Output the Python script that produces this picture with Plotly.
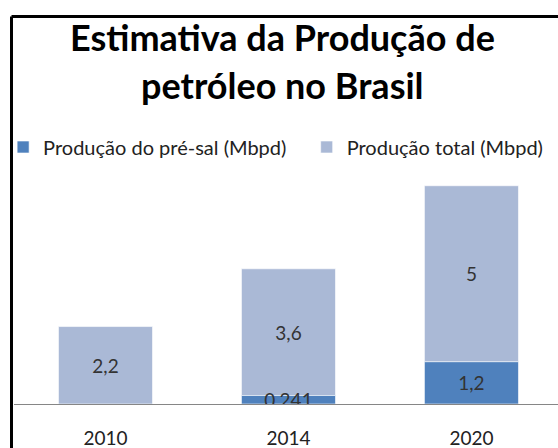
import plotly.graph_objects as go

# dados (Mbpd)
anos = ["2010", "2014", "2020"]
pre_sal = [None, 0.241, 1.2]
total = [2.2, 3.6, 5]

nome_pre_sal = "Produção do pré-sal (Mbpd)"
nome_total = "Produção total (Mbpd)"

cor_pre_sal = "#4F81BD"
cor_total = "#AAB9D6"


def rotulo(v):
    if v is None:
        return ""
    return str(v).replace(".", ",")


base_total = [v if v is not None else 0 for v in pre_sal]

fig = go.Figure()

# total empilhado em cima do pré-sal (desenhado antes para o rótulo do pré-sal ficar por cima)
fig.add_trace(go.Bar(
    x=anos, y=total, base=base_total, name=nome_total,
    marker=dict(color=cor_total, line=dict(color="rgba(255,255,255,0.6)", width=1)),
    text=[rotulo(v) for v in total], textposition="inside", insidetextanchor="middle",
    textangle=0, constraintext="none",
    textfont=dict(family="Lato", size=19, color="#333333"),
    legend="legend2",
))
fig.add_trace(go.Bar(
    x=anos, y=pre_sal, name=nome_pre_sal,
    marker=dict(color=cor_pre_sal, line=dict(color="rgba(255,255,255,0.6)", width=1)),
    text=[rotulo(v) for v in pre_sal], textposition="inside", insidetextanchor="middle",
    textangle=0, constraintext="none",
    textfont=dict(family="Lato", size=19, color="#333333"),
    legend="legend",
))

leg_font = dict(family="Lato", size=20, color="#222222")

fig.update_layout(
    width=558, height=448,
    margin=dict(l=14, r=0, t=178, b=44),
    paper_bgcolor="white", plot_bgcolor="white",
    barmode="overlay", bargap=0.486,
    font=dict(family="Lato", color="#333333"),
    showlegend=True,
    legend=dict(orientation="h", x=-0.02, xanchor="left", y=(404 - 147) / 226, yanchor="middle",
                font=leg_font, bgcolor="rgba(0,0,0,0)"),
    legend2=dict(orientation="h", x=0.538, xanchor="left", y=(404 - 147) / 226, yanchor="middle",
                 font=leg_font, bgcolor="rgba(0,0,0,0)"),
)

fig.update_xaxes(type="category", range=[-0.5, 2.473], showline=True, linecolor="#868686",
                 linewidth=1, ticks="", showgrid=False, ticklabelstandoff=17,
                 layer="below traces", automargin=False,
                 tickfont=dict(family="Lato", size=19, color="#222222"))
fig.update_yaxes(range=[0, 6.42], visible=False, showgrid=False, zeroline=False, automargin=False)

# título em duas linhas
fig.add_annotation(text="<b>Estimativa da Produção de</b>", xref="paper", yref="paper",
                   x=(282 - 14) / 544, y=(404 - 37) / 226, xanchor="center", yanchor="middle",
                   showarrow=False, font=dict(family="Lato", size=36, color="black"))
fig.add_annotation(text="<b>petróleo no Brasil</b>", xref="paper", yref="paper",
                   x=(282 - 14) / 544, y=(404 - 85) / 226, xanchor="center", yanchor="middle",
                   showarrow=False, font=dict(family="Lato", size=36, color="black"))

# moldura do gráfico (só as bordas esquerda e de cima aparecem)
borda = dict(color="black", width=3)
fig.add_shape(type="line", xref="paper", yref="paper",
              x0=(11.5 - 14) / 544, x1=1.0, y0=(404 - 16.5) / 226, y1=(404 - 16.5) / 226, line=borda)
fig.add_shape(type="line", xref="paper", yref="paper",
              x0=(11.5 - 14) / 544, x1=(11.5 - 14) / 544, y0=(404 - 16.5) / 226, y1=-0.2, line=borda)

# sem a margem padrão do <body> nem barras de rolagem
fig.write_html("out.html", config={"displayModeBar": False},
               post_script="document.body.style.margin='0';"
                           "document.body.style.overflow='hidden';"
                           "document.documentElement.style.overflow='hidden';")
